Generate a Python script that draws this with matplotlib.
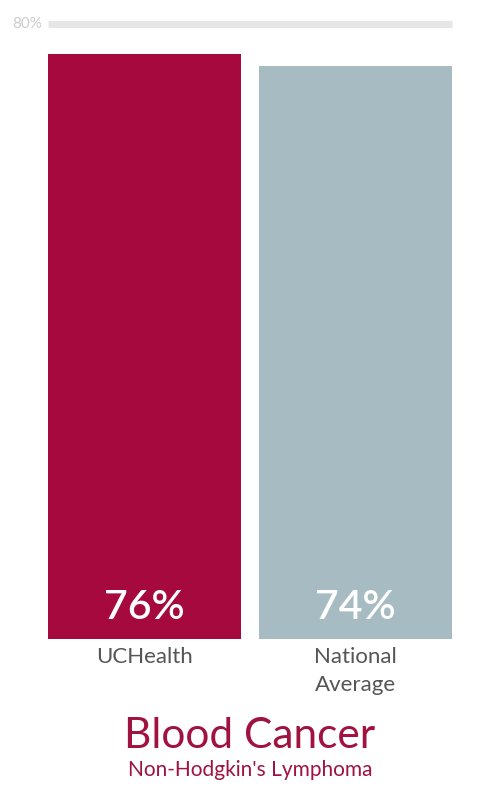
import matplotlib.pyplot as plt

# data
categories = ["UCHealth", "National\nAverage"]
values = [76.0, 74.5]
value_labels = ["76%", "74%"]
bar_colors = ["#a5093d", "#a6bcc2"]
grid_value = 80
title = "Blood Cancer"
subtitle = "Non-Hodgkin's Lymphoma"

plt.rcParams['font.family'] = ['Lato', 'DejaVu Sans']

fig = plt.figure(figsize=(5, 8), dpi=100)
ax = fig.add_axes([48/500, 161/800, 404/500, 615.5/800])

x = list(range(len(categories)))
ax.bar(x, values, width=0.915, color=bar_colors)
ax.set_xlim(-0.4575, 1.4575)
ax.set_ylim(0, grid_value)
ax.axhline(grid_value, color="#e6e6e6", linewidth=5.2, clip_on=False, zorder=0,
           solid_capstyle="butt")
ax.text(-0.485, grid_value, "{}%".format(grid_value), ha="right", va="center",
        fontsize=11, color="#cccccc")

for xi, lab in zip(x, value_labels):
    ax.text(xi, 4.1, lab, ha="center", va="center", fontsize=29.5,
            color="white", fontweight="semibold")

ax.set_xticks(x)
ax.set_xticklabels(categories, fontsize=16, color="#555555", linespacing=1.45,
                   va="top")
ax.tick_params(axis="x", length=0, pad=6)
ax.set_yticks([])
for s in ax.spines.values():
    s.set_visible(False)

fig.text(0.5, 1 - 736/800, title, ha="center", va="center", fontsize=30.5,
         color="#a0123f")
fig.text(0.5, 1 - 770/800, subtitle, ha="center", va="center", fontsize=15,
         color="#a0123f")

fig.savefig("out.png", dpi=100)
